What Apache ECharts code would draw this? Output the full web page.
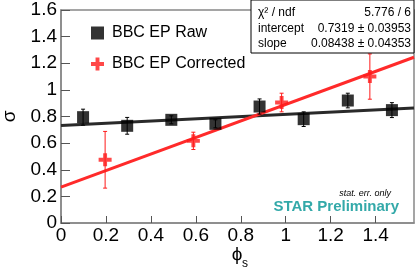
<!DOCTYPE html>
<html>
<head>
<meta charset="utf-8">
<script src="https://cdn.jsdelivr.net/npm/echarts@6/dist/echarts.min.js"></script>
<style>html,body{margin:0;padding:0;background:#fff;}#c{width:419px;height:272px;}</style>
</head>
<body>
<div id="c"></div>
<script>
// ---- data ----
const rawX = [0.0982, 0.2945, 0.4909, 0.6872, 0.8836, 1.0799, 1.2763, 1.4726];
const rawY = [0.795, 0.730, 0.775, 0.745, 0.875, 0.780, 0.920, 0.848];
const rawErr = [0.060, 0.063, 0.030, 0.030, 0.057, 0.055, 0.055, 0.056];
const corX = [0.1963, 0.5890, 0.9817, 1.3744];
const corY = [0.475, 0.617, 0.905, 1.100];
const corErr = [0.213, 0.065, 0.070, 0.170];
const fitRawEnds = [[0, 0.7319], [1.5708, 0.8645]];
const fitCorEnds = [[0, 0.270], [1.5708, 1.245]];
const yTicks = [0, 0.2, 0.4, 0.6, 0.8, 1, 1.2, 1.4, 1.6];
const xTicks = [0, 0.2, 0.4, 0.6, 0.8, 1, 1.2, 1.4];
const statsRows = [["χ² / ndf", "5.776 / 6"], ["intercept", "0.7319 ± 0.03953"], ["slope", "0.08438 ± 0.04353"]];

const FONT = "'Liberation Sans', Arial, Helvetica, sans-serif";
const crossPath = 'path://M35,0 L65,0 L65,35 L100,35 L100,65 L65,65 L65,100 L35,100 L35,65 L0,65 L0,35 L35,35 Z';

function errData(xs, ys, es) { return xs.map((x, i) => [x, ys[i], ys[i] - es[i], ys[i] + es[i]]); }
function errRender(color, cap) {
  return function (params, api) {
    const x = api.value(0);
    const lo = api.coord([x, api.value(2)]);
    const hi = api.coord([x, api.value(3)]);
    const st = { stroke: color, lineWidth: 1 };
    return { type: 'group', children: [
      { type: 'line', shape: { x1: lo[0], y1: lo[1], x2: hi[0], y2: hi[1] }, style: st },
      { type: 'line', shape: { x1: lo[0] - cap, y1: lo[1], x2: lo[0] + cap, y2: lo[1] }, style: st },
      { type: 'line', shape: { x1: hi[0] - cap, y1: hi[1], x2: hi[0] + cap, y2: hi[1] }, style: st }
    ]};
  };
}

const chart = echarts.init(document.getElementById('c'), null, { renderer: 'canvas' });

const statsGraphics = [
  { type: 'rect', shape: { x: 251, y: 0, width: 163, height: 53 }, style: { fill: '#fff', stroke: '#000', lineWidth: 1 }, z: 100 }
];
statsRows.forEach((r, i) => {
  const y = 13 + i * 15.5;
  statsGraphics.push({ type: 'text', x: 258, y: y, z: 101, style: { text: r[0], font: '12px ' + FONT, fill: '#000', verticalAlign: 'middle', align: 'left' } });
  statsGraphics.push({ type: 'text', x: 411, y: y, z: 101, style: { text: r[1], font: '12px ' + FONT, fill: '#000', verticalAlign: 'middle', align: 'right' } });
});

const option = {
  animation: false,
  backgroundColor: '#fff',
  grid: { left: 61, right: 5, top: 10, bottom: 49, show: true, borderColor: '#888', borderWidth: 1.5,
    backgroundColor: 'transparent', outerBoundsMode: 'none', containLabel: false },
  xAxis: {
    type: 'value', min: 0, max: 1.5708, interval: 0.2,
    axisLine: { show: true, lineStyle: { color: '#888', width: 1.5 } },
    axisTick: { show: true, inside: true, length: 7, lineStyle: { color: '#555' },
      customValues: xTicks },
    axisLabel: { color: '#000', fontSize: 19, fontFamily: FONT, margin: 3,
      customValues: xTicks, formatter: v => String(+v.toFixed(1)) },
    splitLine: { show: false }
  },
  yAxis: {
    type: 'value', min: 0, max: 1.6, interval: 0.2,
    name: 'σ', nameLocation: 'middle', nameGap: 40, nameRotate: 90,
    nameTextStyle: { color: '#000', fontSize: 19, fontFamily: FONT },
    axisLine: { show: true, lineStyle: { color: '#888', width: 1.5 } },
    axisTick: { show: true, inside: true, length: 9, lineStyle: { color: '#555' }, customValues: yTicks },
    axisLabel: { color: '#000', fontSize: 19, fontFamily: FONT, margin: 4, customValues: yTicks,
      formatter: v => String(+v.toFixed(1)) },
    splitLine: { show: false }
  },
  legend: {
    orient: 'vertical', left: 86, top: 20, itemGap: 15, itemWidth: 13, itemHeight: 13,
    textStyle: { color: '#000', fontSize: 16, fontFamily: FONT, padding: [0, 0, 0, 3] },
    data: [
      { name: 'BBC EP Raw', icon: 'rect', itemStyle: { color: '#000' } },
      { name: 'BBC EP Corrected', icon: crossPath, itemStyle: { color: '#ff1a1a' } }
    ]
  },
  series: [
    { name: 'fitRaw', type: 'line', data: fitRawEnds, showSymbol: false, silent: true,
      lineStyle: { color: '#2a2a2a', width: 3 }, z: 3 },
    { name: 'fitCor', type: 'line', data: fitCorEnds, showSymbol: false, silent: true,
      lineStyle: { color: '#ff2a2a', width: 3 }, z: 3 },
    { name: 'rawErr', type: 'custom', renderItem: errRender('#000', 2), data: errData(rawX, rawY, rawErr), z: 4,
      encode: { x: 0, y: [1, 2, 3] } },
    { name: 'corErr', type: 'custom', renderItem: errRender('#ff1a1a', 2), data: errData(corX, corY, corErr), z: 4,
      encode: { x: 0, y: [1, 2, 3] } },
    { name: 'BBC EP Raw', type: 'scatter', symbol: 'rect', symbolSize: 12,
      itemStyle: { color: '#000' }, data: rawX.map((x, i) => [x, rawY[i]]), z: 5 },
    { name: 'BBC EP Corrected', type: 'scatter', symbol: crossPath, symbolSize: 13,
      itemStyle: { color: '#ff1a1a' }, data: corX.map((x, i) => [x, corY[i]]), z: 5 }
  ],
  graphic: statsGraphics.concat([
    { type: 'text', x: 237, y: 255, style: { text: 'ϕ', font: '19px ' + FONT, fill: '#000', align: 'center', verticalAlign: 'middle' } },
    { type: 'text', x: 242, y: 264, style: { text: 's', font: '12px ' + FONT, fill: '#000', align: 'left', verticalAlign: 'middle' } },
    { type: 'text', x: 391, y: 193, style: { text: 'stat. err. only', font: 'italic 9px ' + FONT, fill: '#000', align: 'right', verticalAlign: 'middle' } },
    { type: 'text', x: 399, y: 207, style: { text: 'STAR Preliminary', font: 'bold 15px ' + FONT, fill: '#33a9a9', align: 'right', verticalAlign: 'middle' } }
  ])
};
chart.setOption(option);
</script>
</body>
</html>
